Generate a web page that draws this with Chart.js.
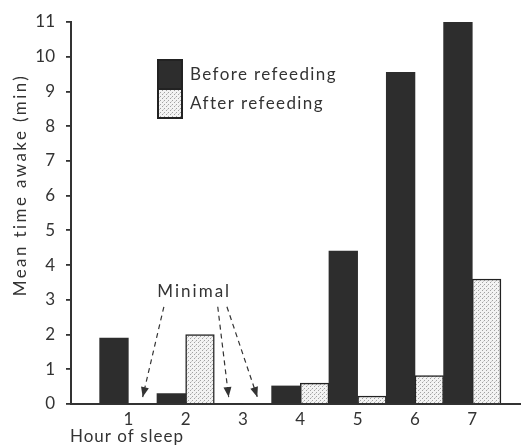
<!DOCTYPE html>
<html lang="en">
<head>
<meta charset="UTF-8">
<title>Mean time awake by hour of sleep</title>
<script src="https://cdn.jsdelivr.net/npm/chart.js"></script>
<style>
    html, body {
        margin: 0;
        padding: 0;
        background: #ffffff;
    }
    .chart-box {
        width: 521px;
        height: 446px;
    }
</style>
</head>
<body>

<div class="chart-box">
    <canvas id="sleepChart" width="521" height="446"></canvas>
</div>

<script>
// data
const hours = [1, 2, 3, 4, 5, 6, 7];
const beforeRefeeding = [1.9, 0.3, 0, 0.52, 4.4, 9.55, 11.0];
const afterRefeeding = [0, 2.0, 0, 0.6, 0.23, 0.82, 3.6];
const yTicks = [0, 1, 2, 3, 4, 5, 6, 7, 8, 9, 10, 11];
const seriesNames = ['Before refeeding', 'After refeeding'];
// bars marked "Minimal" (hour, dataset index)
const minimalHours = [1, 3, 3];
const minimalSeries = [1, 0, 1];

const ink = '#333333';
const font = 'Lato, "DejaVu Sans", sans-serif';

const canvas = document.getElementById('sleepChart');
const ctx = canvas.getContext('2d');

// dotted fill like the printed stipple
function stipple() {
    const tile = document.createElement('canvas');
    tile.width = 4;
    tile.height = 4;
    const g = tile.getContext('2d');
    g.fillStyle = '#f3f3f3';
    g.fillRect(0, 0, 4, 4);
    g.fillStyle = '#a2a2a2';
    g.fillRect(0, 0, 1, 1);
    g.fillRect(2, 2, 1, 1);
    g.fillStyle = '#cfcfcf';
    g.fillRect(3, 1, 1, 1);
    return ctx.createPattern(tile, 'repeat');
}
const dots = stipple();
const fills = ['#2d2d2d', dots];

function arrow(c, x0, y0, x1, y1) {
    c.setLineDash([5, 4]);
    c.beginPath();
    c.moveTo(x0, y0);
    c.lineTo(x1, y1);
    c.stroke();
    c.setLineDash([]);
    const a = Math.atan2(y1 - y0, x1 - x0);
    const len = 10, half = 4;
    c.beginPath();
    c.moveTo(x1, y1);
    c.lineTo(x1 - len * Math.cos(a) + half * Math.sin(a), y1 - len * Math.sin(a) - half * Math.cos(a));
    c.lineTo(x1 - len * Math.cos(a) - half * Math.sin(a), y1 - len * Math.sin(a) + half * Math.cos(a));
    c.closePath();
    c.fill();
}

const extras = {
    id: 'extras',
    afterDraw(chart) {
        const c = chart.ctx;
        const { x, y } = chart.scales;
        c.save();

        // legend
        c.letterSpacing = '1.4px';
        chart.data.datasets.forEach((ds, i) => {
            const top = 60 + i * 29;
            c.fillStyle = ds.backgroundColor;
            c.fillRect(158, top, 24, 29);
            c.strokeStyle = '#222';
            c.lineWidth = 2;
            c.strokeRect(158, top, 24, 29);
            c.fillStyle = ink;
            c.font = '17px ' + font;
            c.textAlign = 'left';
            c.textBaseline = 'middle';
            c.fillText(ds.label, 190, top + 15);
        });

        // "Minimal" note with dashed arrows
        c.font = '17px ' + font;
        c.letterSpacing = '2px';
        c.textAlign = 'center';
        c.fillText('Minimal', x.getPixelForValue(2.15), y.getPixelForValue(3.25));
        c.strokeStyle = ink;
        c.lineWidth = 1.2;
        const starts = [1.62, 2.56, 2.72];
        minimalHours.forEach((h, k) => {
            const el = chart.getDatasetMeta(minimalSeries[k]).data[hours.indexOf(h)];
            arrow(c, x.getPixelForValue(starts[k]), y.getPixelForValue(2.8), el.x, y.getPixelForValue(0.2));
        });

        // axis titles
        c.letterSpacing = '1px';
        c.textAlign = 'left';
        c.textBaseline = 'middle';
        c.fillText('Hour of sleep', x.left - 1, 437);
        c.translate(21, 185);
        c.rotate(-Math.PI / 2);
        c.textAlign = 'center';
        c.letterSpacing = '2.4px';
        c.font = '17px ' + font;
        c.fillText('Mean time awake (min)', 0, 0);
        c.restore();
    }
};

new Chart(ctx, {
    type: 'bar',
    data: {
        labels: hours,
        datasets: [beforeRefeeding, afterRefeeding].map((vals, i) => ({
            label: seriesNames[i],
            data: vals,
            backgroundColor: fills[i],
            borderColor: '#222',
            borderWidth: i === 0 ? 0 : 1.5,
            categoryPercentage: 1,
            barPercentage: 1
        }))
    },
    options: {
        responsive: false,
        animation: false,
        devicePixelRatio: 1,
        layout: { padding: { top: 22, right: 0, bottom: 0, left: 0 } },
        plugins: {
            legend: { display: false },
            tooltip: { enabled: false }
        },
        scales: {
            x: {
                type: 'linear',
                offset: false,
                min: 0,
                max: 7.85,
                afterBuildTicks: s => { s.ticks = hours.map(v => ({ value: v })); },
                afterFit: s => { s.height = 42; },
                grid: { display: false, drawTicks: false, offset: false },
                border: { color: ink, width: 2 },
                ticks: {
                    color: ink,
                    padding: 5,
                    maxRotation: 0,
                    font: { family: font, size: 17 }
                }
            },
            y: {
                min: 0,
                max: 11,
                afterBuildTicks: s => { s.ticks = yTicks.map(v => ({ value: v })); },
                afterFit: s => { s.width = 71; },
                grid: { drawOnChartArea: false, drawTicks: true, tickLength: 5, color: ink, lineWidth: 1.8 },
                border: { color: ink, width: 2 },
                ticks: {
                    color: ink,
                    padding: 11,
                    font: { family: font, size: 17 }
                }
            }
        }
    },
    plugins: [extras]
});
</script>

</body>
</html>
